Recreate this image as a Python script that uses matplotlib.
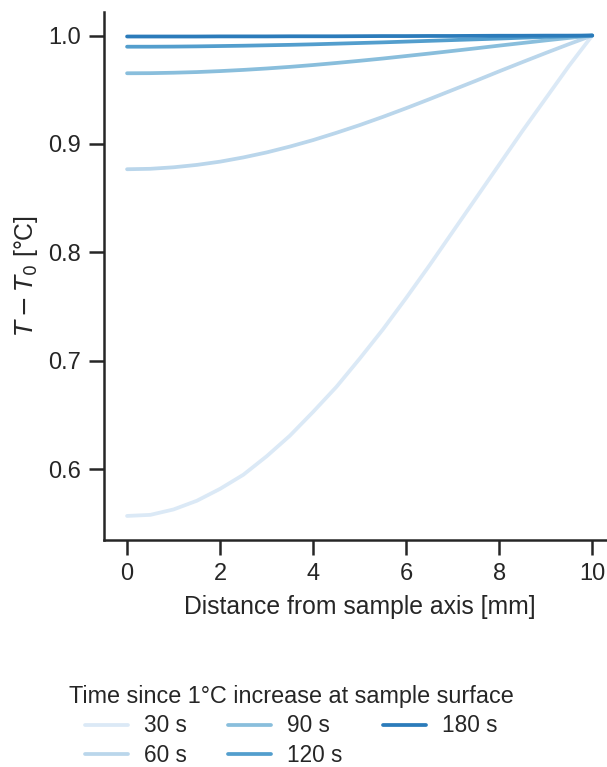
import matplotlib
matplotlib.use("Agg")
import matplotlib.pyplot as plt
import seaborn as sns

# Radial temperature profiles
distance = [0.0, 0.5, 1.0, 1.5, 2.0, 2.5, 3.0, 3.5, 4.0, 4.5, 5.0,
            5.5, 6.0, 6.5, 7.0, 7.5, 8.0, 8.5, 9.0, 9.5, 10.0]
t30 = [0.557, 0.558, 0.563, 0.571, 0.582, 0.595, 0.612, 0.631, 0.653, 0.676, 0.702,
       0.729, 0.758, 0.788, 0.819, 0.850, 0.881, 0.912, 0.942, 0.972, 1.000]
t60 = [0.8767, 0.8771, 0.8785, 0.8807, 0.8837, 0.8876, 0.8922, 0.8976, 0.9036, 0.9103, 0.9174,
       0.9250, 0.9330, 0.9413, 0.9498, 0.9583, 0.9670, 0.9755, 0.9839, 0.9921, 1.0000]
t90 = [0.9652, 0.9653, 0.9657, 0.9663, 0.9672, 0.9683, 0.9696, 0.9711, 0.9728, 0.9747, 0.9767,
       0.9788, 0.9811, 0.9834, 0.9858, 0.9882, 0.9907, 0.9931, 0.9955, 0.9978, 1.0000]
t120 = [0.9897, 0.9897, 0.9898, 0.9900, 0.9903, 0.9906, 0.9910, 0.9914, 0.9919, 0.9925, 0.9931,
        0.9937, 0.9944, 0.9951, 0.9958, 0.9965, 0.9972, 0.9980, 0.9987, 0.9993, 1.0000]
t180 = [0.9991, 0.9991, 0.9991, 0.9991, 0.9992, 0.9992, 0.9992, 0.9993, 0.9993, 0.9993, 0.9994,
        0.9995, 0.9995, 0.9996, 0.9996, 0.9997, 0.9998, 0.9998, 0.9999, 0.9999, 1.0000]
profiles = [t30, t60, t90, t120, t180]
labels = ["30 s", "60 s", "90 s", "120 s", "180 s"]

sns.set_theme(style="ticks")
plt.rcParams["font.family"] = ["Liberation Sans", "DejaVu Sans"]
plt.rcParams["axes.linewidth"] = 1.8
plt.rcParams["xtick.major.width"] = 1.8
plt.rcParams["ytick.major.width"] = 1.8
plt.rcParams["xtick.major.size"] = 11
plt.rcParams["ytick.major.size"] = 11
plt.rcParams["xtick.major.pad"] = 5.5
plt.rcParams["ytick.major.pad"] = 5.5
plt.rcParams["text.color"] = "#262626"

# lightest five shades of a six step Blues palette
colors = sns.color_palette("Blues", 6)[:5]

fig = plt.figure(figsize=(6.07, 7.67), dpi=100)
ax = fig.add_axes([0.171, 0.296, 0.843, 0.689])

for temps, label, color in zip(profiles, labels, colors):
    ax.plot(distance, temps, color=color, lw=2.7, label=label, solid_capstyle="round")

ax.set_xticks([0, 2, 4, 6, 8, 10])
ax.set_yticks([0.6, 0.7, 0.8, 0.9, 1.0])
ax.tick_params(labelsize=17, colors="#262626")
ax.set_xlabel("Distance from sample axis [mm]", fontsize=17.8, labelpad=7)
ax.set_ylabel(r"$T - T_0$ [°C]", fontsize=17.8, labelpad=6)
sns.despine(ax=ax)

fig.legend(loc="upper center", bbox_to_anchor=(0.48, 0.128), ncol=3, frameon=False,
           fontsize=16.3, title="Time since 1°C increase at sample surface",
           title_fontsize=16.8, handlelength=1.9, columnspacing=1.8,
           labelspacing=0.3, borderpad=0.2, handletextpad=0.7)

fig.savefig("out.png", dpi=100)
